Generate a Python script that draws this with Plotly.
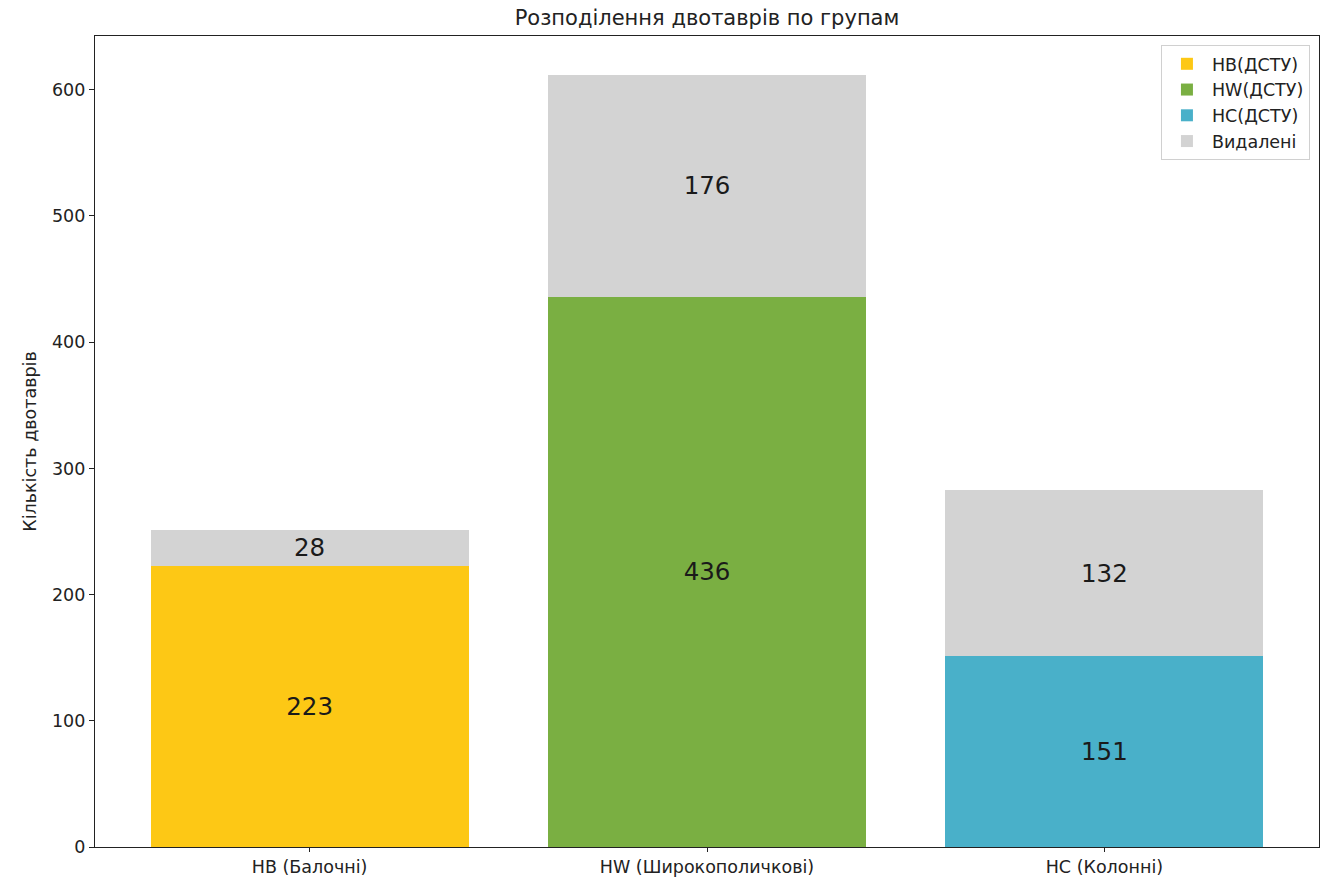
import plotly.graph_objects as go

categories = ["HB (Балочні)", "HW (Широкополичкові)", "HC (Колонні)"]
series_names = ["HB(ДСТУ)", "HW(ДСТУ)", "HC(ДСТУ)"]
kept_values = [223, 436, 151]
removed_values = [28, 176, 132]
series_colors = ["#FDC815", "#7AAF42", "#49B0C9"]
removed_color = "#D3D3D3"
y_ticks = [0, 100, 200, 300, 400, 500, 600]

positions = list(range(len(categories)))
font_family = "DejaVu Sans, Verdana, sans-serif"
label_font = dict(size=24.5, color="#1a1a1a", family=font_family)

fig = go.Figure()
for i, (name, val, col) in enumerate(zip(series_names, kept_values, series_colors)):
    fig.add_trace(go.Bar(
        x=[positions[i]], y=[val], name=name, width=0.8,
        marker=dict(color=col, line=dict(width=0)),
        text=[str(val)], textposition="inside", insidetextanchor="middle",
        textfont=label_font, textangle=0,
    ))

fig.add_trace(go.Bar(
    x=positions, y=removed_values, name="Видалені", width=0.8,
    marker=dict(color=removed_color, line=dict(width=0)),
    text=[str(v) for v in removed_values], textposition="inside",
    insidetextanchor="middle", textfont=label_font, textangle=0,
))

totals = [a + b for a, b in zip(kept_values, removed_values)]
fig.update_layout(
    barmode="stack",
    width=1332, height=877,
    margin=dict(l=95, r=13, t=36, b=30),
    paper_bgcolor="white", plot_bgcolor="white",
    font=dict(family=font_family, size=17.5, color="#222"),
    title=dict(text="Розподілення двотаврів по групам", x=(95 + 1319) / 2 / 1332,
               xanchor="center", y=1 - 18 / 877, yanchor="middle",
               font=dict(size=21, color="#222")),
    uniformtext=dict(minsize=8, mode=False),
    legend=dict(x=0.9926, y=0.989, xanchor="right", yanchor="top",
                bgcolor="rgba(255,255,255,0.9)", bordercolor="#d0d0d0", borderwidth=1,
                font=dict(size=17.5), traceorder="normal", itemwidth=40,
                tracegroupgap=0),
    xaxis=dict(range=[-0.54, 2.54], tickvals=positions, ticktext=categories,
               showline=True, linecolor="#222", linewidth=1.2, mirror=True,
               ticks="outside", ticklen=4, tickcolor="#222", showgrid=False,
               zeroline=False, tickfont=dict(size=17.5), automargin=False),
    yaxis=dict(range=[0, max(totals) * 1.05], tickvals=y_ticks,
               showline=True, linecolor="#222", linewidth=1.2, mirror=True,
               ticks="outside", ticklen=5, tickcolor="#222", showgrid=False,
               zeroline=False, tickfont=dict(size=17.5), automargin=False,
               title=dict(text="Кількість двотаврів", font=dict(size=17.5), standoff=10)),
)

fig.write_html("out.html")
